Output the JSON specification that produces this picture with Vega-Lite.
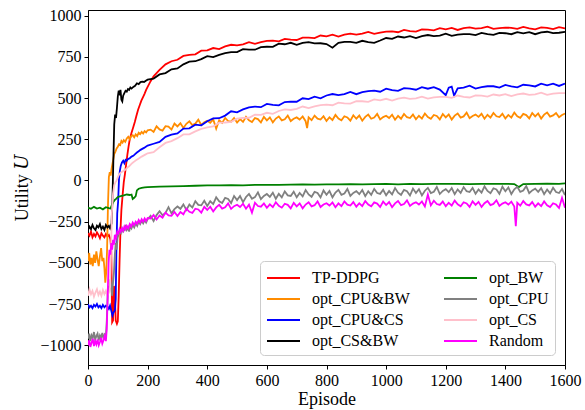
{
  "$schema": "https://vega.github.io/schema/vega-lite/v6.json",
  "width": 477,
  "height": 355,
  "autosize": {"type": "none"},
  "padding": {"left": 88, "top": 10, "right": 20, "bottom": 45},
  "background": "white",
  "config": {
    "font": "Liberation Serif",
    "view": {"stroke": "black", "strokeWidth": 1},
    "axis": {
      "labelFont": "Liberation Serif", "labelFontSize": 16, "labelColor": "black",
      "titleFont": "Liberation Serif, DejaVu Serif, serif", "titleFontSize": 18, "titleFontWeight": "normal", "titleColor": "black",
      "domainColor": "black", "tickColor": "black", "tickSize": 4, "grid": false,
      "labelPadding": 3, "labelFlush": false, "labelOverlap": false
    }
  },
  "data": {"values": [
    {"s":"T","x":0,"y":-320},{"s":"T","x":5,"y":-335},{"s":"T","x":10,"y":-310},{"s":"T","x":15,"y":-345},{"s":"T","x":20,"y":-325},{"s":"T","x":25,"y":-340},{"s":"T","x":30,"y":-315},{"s":"T","x":35,"y":-330},{"s":"T","x":40,"y":-350},{"s":"T","x":45,"y":-320},{"s":"T","x":50,"y":-335},{"s":"T","x":55,"y":-345},{"s":"T","x":60,"y":-325},{"s":"T","x":65,"y":-340},{"s":"T","x":70,"y":-330},{"s":"T","x":75,"y":-355},{"s":"T","x":78,"y":-420},{"s":"T","x":81,"y":-860},{"s":"T","x":84,"y":-850},{"s":"T","x":87,"y":-640},{"s":"T","x":90,"y":-700},{"s":"T","x":93,"y":-850},{"s":"T","x":97,"y":-870},{"s":"T","x":100,"y":-855},{"s":"T","x":103,"y":-700},{"s":"T","x":106,"y":-480},{"s":"T","x":109,"y":-300},{"s":"T","x":112,"y":-180},{"s":"T","x":116,"y":-90},{"s":"T","x":120,"y":-10},{"s":"T","x":124,"y":40},{"s":"T","x":128,"y":100},{"s":"T","x":132,"y":155},{"s":"T","x":136,"y":205},{"s":"T","x":140,"y":250},{"s":"T","x":146,"y":290},{"s":"T","x":152,"y":325},{"s":"T","x":157,"y":355},{"s":"T","x":162,"y":390},{"s":"T","x":168,"y":430},{"s":"T","x":174,"y":460},{"s":"T","x":179,"y":485},{"s":"T","x":185,"y":508},{"s":"T","x":190,"y":528},{"s":"T","x":195,"y":550},{"s":"T","x":200,"y":568},{"s":"T","x":210,"y":603},
    {"s":"T","x":220,"y":632},{"s":"T","x":230,"y":652},{"s":"T","x":240,"y":672},{"s":"T","x":260,"y":705},{"s":"T","x":280,"y":724},{"s":"T","x":300,"y":733},{"s":"T","x":320,"y":756},{"s":"T","x":340,"y":763},{"s":"T","x":360,"y":766},{"s":"T","x":380,"y":788},{"s":"T","x":400,"y":790},{"s":"T","x":420,"y":804},{"s":"T","x":440,"y":798},{"s":"T","x":460,"y":814},{"s":"T","x":480,"y":824},{"s":"T","x":500,"y":820},{"s":"T","x":520,"y":827},{"s":"T","x":540,"y":840},{"s":"T","x":560,"y":830},{"s":"T","x":580,"y":840},{"s":"T","x":600,"y":847},
    {"s":"T","x":620,"y":849},{"s":"T","x":640,"y":845},{"s":"T","x":660,"y":860},{"s":"T","x":680,"y":855},{"s":"T","x":700,"y":853},{"s":"T","x":720,"y":867},{"s":"T","x":740,"y":867},{"s":"T","x":760,"y":864},{"s":"T","x":780,"y":880},{"s":"T","x":800,"y":875},{"s":"T","x":820,"y":885},{"s":"T","x":840,"y":874},{"s":"T","x":860,"y":886},{"s":"T","x":880,"y":892},{"s":"T","x":900,"y":886},{"s":"T","x":920,"y":891},{"s":"T","x":940,"y":902},{"s":"T","x":960,"y":890},{"s":"T","x":980,"y":898},{"s":"T","x":1000,"y":904},
    {"s":"T","x":1020,"y":905},{"s":"T","x":1040,"y":900},{"s":"T","x":1060,"y":914},{"s":"T","x":1080,"y":907},{"s":"T","x":1100,"y":904},{"s":"T","x":1120,"y":917},{"s":"T","x":1140,"y":916},{"s":"T","x":1160,"y":911},{"s":"T","x":1180,"y":925},{"s":"T","x":1200,"y":918},{"s":"T","x":1220,"y":926},{"s":"T","x":1240,"y":914},{"s":"T","x":1260,"y":925},{"s":"T","x":1280,"y":930},{"s":"T","x":1300,"y":922},{"s":"T","x":1320,"y":925},{"s":"T","x":1340,"y":934},{"s":"T","x":1360,"y":920},{"s":"T","x":1380,"y":925},{"s":"T","x":1400,"y":928},
    {"s":"T","x":1420,"y":927},{"s":"T","x":1440,"y":920},{"s":"T","x":1460,"y":932},{"s":"T","x":1480,"y":923},{"s":"T","x":1500,"y":918},{"s":"T","x":1520,"y":929},{"s":"T","x":1540,"y":926},{"s":"T","x":1560,"y":919},{"s":"T","x":1580,"y":931},{"s":"T","x":1600,"y":923},

    {"s":"CB","x":0,"y":-490},{"s":"CB","x":4,"y":-440},{"s":"CB","x":8,"y":-510},{"s":"CB","x":12,"y":-470},{"s":"CB","x":16,"y":-520},{"s":"CB","x":20,"y":-450},{"s":"CB","x":24,"y":-500},{"s":"CB","x":28,"y":-430},{"s":"CB","x":32,"y":-480},{"s":"CB","x":36,"y":-520},{"s":"CB","x":40,"y":-460},{"s":"CB","x":44,"y":-410},{"s":"CB","x":48,"y":-490},{"s":"CB","x":52,"y":-470},{"s":"CB","x":55,"y":-530},{"s":"CB","x":58,"y":-620},{"s":"CB","x":61,"y":-560},{"s":"CB","x":64,"y":-420},{"s":"CB","x":67,"y":-150},{"s":"CB","x":70,"y":20},{"s":"CB","x":73,"y":50},{"s":"CB","x":76,"y":30},{"s":"CB","x":79,"y":70},{"s":"CB","x":82,"y":100},{"s":"CB","x":85,"y":130},{"s":"CB","x":88,"y":160},{"s":"CB","x":92,"y":175},{"s":"CB","x":96,"y":195},{"s":"CB","x":100,"y":205},{"s":"CB","x":104,"y":220},{"s":"CB","x":108,"y":215},{"s":"CB","x":112,"y":240},{"s":"CB","x":116,"y":230},{"s":"CB","x":120,"y":245},{"s":"CB","x":125,"y":235},{"s":"CB","x":130,"y":255},{"s":"CB","x":135,"y":265},{"s":"CB","x":140,"y":250},{"s":"CB","x":145,"y":270},{"s":"CB","x":150,"y":275},{"s":"CB","x":155,"y":262},{"s":"CB","x":160,"y":280},{"s":"CB","x":165,"y":270},{"s":"CB","x":170,"y":290},{"s":"CB","x":175,"y":282},{"s":"CB","x":180,"y":295},{"s":"CB","x":185,"y":285},{"s":"CB","x":190,"y":300},{"s":"CB","x":195,"y":292},{"s":"CB","x":200,"y":305},
    {"s":"CB","x":210,"y":309},{"s":"CB","x":220,"y":295},{"s":"CB","x":230,"y":329},{"s":"CB","x":240,"y":310},{"s":"CB","x":250,"y":303},{"s":"CB","x":260,"y":330},{"s":"CB","x":270,"y":327},{"s":"CB","x":280,"y":309},{"s":"CB","x":290,"y":346},{"s":"CB","x":300,"y":328},{"s":"CB","x":310,"y":348},{"s":"CB","x":320,"y":319},{"s":"CB","x":330,"y":344},{"s":"CB","x":340,"y":359},{"s":"CB","x":350,"y":336},{"s":"CB","x":360,"y":345},{"s":"CB","x":370,"y":369},{"s":"CB","x":380,"y":337},{"s":"CB","x":390,"y":353},{"s":"CB","x":400,"y":363},
    {"s":"CB","x":410,"y":350},{"s":"CB","x":420,"y":371},{"s":"CB","x":430,"y":315},{"s":"CB","x":440,"y":366},{"s":"CB","x":450,"y":350},{"s":"CB","x":460,"y":380},{"s":"CB","x":470,"y":361},{"s":"CB","x":480,"y":357},{"s":"CB","x":490,"y":379},{"s":"CB","x":500,"y":352},{"s":"CB","x":510,"y":373},{"s":"CB","x":520,"y":356},{"s":"CB","x":530,"y":387},{"s":"CB","x":540,"y":365},{"s":"CB","x":550,"y":355},{"s":"CB","x":560,"y":379},{"s":"CB","x":570,"y":373},{"s":"CB","x":580,"y":352},{"s":"CB","x":590,"y":386},{"s":"CB","x":600,"y":365},
    {"s":"CB","x":610,"y":383},{"s":"CB","x":620,"y":353},{"s":"CB","x":630,"y":376},{"s":"CB","x":640,"y":389},{"s":"CB","x":650,"y":365},{"s":"CB","x":660,"y":372},{"s":"CB","x":670,"y":394},{"s":"CB","x":680,"y":361},{"s":"CB","x":690,"y":375},{"s":"CB","x":700,"y":383},{"s":"CB","x":710,"y":370},{"s":"CB","x":720,"y":389},{"s":"CB","x":730,"y":360},{"s":"CB","x":735,"y":318},{"s":"CB","x":740,"y":383},{"s":"CB","x":750,"y":366},{"s":"CB","x":760,"y":394},{"s":"CB","x":770,"y":375},{"s":"CB","x":780,"y":370},{"s":"CB","x":790,"y":390},{"s":"CB","x":800,"y":362},
    {"s":"CB","x":810,"y":384},{"s":"CB","x":820,"y":367},{"s":"CB","x":830,"y":398},{"s":"CB","x":840,"y":376},{"s":"CB","x":850,"y":365},{"s":"CB","x":860,"y":390},{"s":"CB","x":870,"y":383},{"s":"CB","x":880,"y":363},{"s":"CB","x":890,"y":396},{"s":"CB","x":900,"y":375},{"s":"CB","x":910,"y":394},{"s":"CB","x":920,"y":363},{"s":"CB","x":930,"y":386},{"s":"CB","x":940,"y":400},{"s":"CB","x":950,"y":375},{"s":"CB","x":960,"y":382},{"s":"CB","x":970,"y":404},{"s":"CB","x":980,"y":371},{"s":"CB","x":990,"y":385},{"s":"CB","x":1000,"y":393},
    {"s":"CB","x":1010,"y":379},{"s":"CB","x":1020,"y":399},{"s":"CB","x":1030,"y":369},{"s":"CB","x":1040,"y":392},{"s":"CB","x":1050,"y":375},{"s":"CB","x":1060,"y":404},{"s":"CB","x":1070,"y":384},{"s":"CB","x":1080,"y":379},{"s":"CB","x":1090,"y":400},{"s":"CB","x":1100,"y":372},{"s":"CB","x":1110,"y":393},{"s":"CB","x":1120,"y":376},{"s":"CB","x":1130,"y":407},{"s":"CB","x":1140,"y":385},{"s":"CB","x":1150,"y":374},{"s":"CB","x":1160,"y":398},{"s":"CB","x":1170,"y":392},{"s":"CB","x":1180,"y":371},{"s":"CB","x":1190,"y":404},{"s":"CB","x":1200,"y":383},
    {"s":"CB","x":1210,"y":401},{"s":"CB","x":1220,"y":370},{"s":"CB","x":1230,"y":394},{"s":"CB","x":1240,"y":407},{"s":"CB","x":1250,"y":382},{"s":"CB","x":1260,"y":389},{"s":"CB","x":1270,"y":412},{"s":"CB","x":1280,"y":378},{"s":"CB","x":1290,"y":392},{"s":"CB","x":1300,"y":400},{"s":"CB","x":1310,"y":386},{"s":"CB","x":1320,"y":405},{"s":"CB","x":1330,"y":375},{"s":"CB","x":1340,"y":399},{"s":"CB","x":1350,"y":382},{"s":"CB","x":1360,"y":410},{"s":"CB","x":1370,"y":390},{"s":"CB","x":1380,"y":385},{"s":"CB","x":1390,"y":405},{"s":"CB","x":1400,"y":377},
    {"s":"CB","x":1410,"y":398},{"s":"CB","x":1420,"y":382},{"s":"CB","x":1430,"y":412},{"s":"CB","x":1440,"y":390},{"s":"CB","x":1450,"y":380},{"s":"CB","x":1460,"y":404},{"s":"CB","x":1470,"y":397},{"s":"CB","x":1480,"y":377},{"s":"CB","x":1490,"y":410},{"s":"CB","x":1500,"y":389},{"s":"CB","x":1510,"y":407},{"s":"CB","x":1520,"y":376},{"s":"CB","x":1530,"y":400},{"s":"CB","x":1540,"y":413},{"s":"CB","x":1550,"y":388},{"s":"CB","x":1560,"y":395},{"s":"CB","x":1570,"y":410},{"s":"CB","x":1580,"y":384},{"s":"CB","x":1590,"y":398},{"s":"CB","x":1600,"y":406},

    {"s":"CC","x":0,"y":-750},{"s":"CC","x":5,"y":-770},{"s":"CC","x":10,"y":-760},{"s":"CC","x":15,"y":-775},{"s":"CC","x":20,"y":-755},{"s":"CC","x":25,"y":-765},{"s":"CC","x":30,"y":-750},{"s":"CC","x":35,"y":-770},{"s":"CC","x":40,"y":-760},{"s":"CC","x":45,"y":-775},{"s":"CC","x":50,"y":-755},{"s":"CC","x":55,"y":-770},{"s":"CC","x":60,"y":-760},{"s":"CC","x":65,"y":-765},{"s":"CC","x":70,"y":-780},{"s":"CC","x":74,"y":-760},{"s":"CC","x":78,"y":-790},{"s":"CC","x":82,"y":-820},{"s":"CC","x":86,"y":-800},{"s":"CC","x":90,"y":-790},{"s":"CC","x":93,"y":-720},{"s":"CC","x":95,"y":-450},{"s":"CC","x":98,"y":-200},{"s":"CC","x":101,"y":-130},{"s":"CC","x":104,"y":10},{"s":"CC","x":107,"y":60},{"s":"CC","x":110,"y":90},{"s":"CC","x":114,"y":110},{"s":"CC","x":118,"y":120},{"s":"CC","x":122,"y":105},{"s":"CC","x":126,"y":125},{"s":"CC","x":130,"y":120},{"s":"CC","x":134,"y":130},{"s":"CC","x":140,"y":135},{"s":"CC","x":146,"y":145},{"s":"CC","x":152,"y":150},{"s":"CC","x":158,"y":160},{"s":"CC","x":164,"y":170},{"s":"CC","x":170,"y":178},{"s":"CC","x":176,"y":186},{"s":"CC","x":182,"y":192},{"s":"CC","x":188,"y":198},{"s":"CC","x":194,"y":205},{"s":"CC","x":200,"y":212},
    {"s":"CC","x":220,"y":223},{"s":"CC","x":240,"y":234},{"s":"CC","x":260,"y":265},{"s":"CC","x":280,"y":278},{"s":"CC","x":300,"y":286},{"s":"CC","x":320,"y":315},{"s":"CC","x":340,"y":317},{"s":"CC","x":360,"y":339},{"s":"CC","x":380,"y":335},{"s":"CC","x":400,"y":360},{"s":"CC","x":420,"y":377},{"s":"CC","x":440,"y":378},{"s":"CC","x":460,"y":394},{"s":"CC","x":480,"y":420},{"s":"CC","x":500,"y":414},{"s":"CC","x":520,"y":432},{"s":"CC","x":540,"y":444},{"s":"CC","x":560,"y":449},{"s":"CC","x":580,"y":445},{"s":"CC","x":600,"y":465},
    {"s":"CC","x":620,"y":459},{"s":"CC","x":640,"y":456},{"s":"CC","x":660,"y":476},{"s":"CC","x":680,"y":479},{"s":"CC","x":700,"y":478},{"s":"CC","x":720,"y":499},{"s":"CC","x":740,"y":494},{"s":"CC","x":760,"y":509},{"s":"CC","x":780,"y":499},{"s":"CC","x":800,"y":516},{"s":"CC","x":820,"y":525},{"s":"CC","x":840,"y":518},{"s":"CC","x":860,"y":524},{"s":"CC","x":880,"y":538},{"s":"CC","x":900,"y":524},{"s":"CC","x":920,"y":536},{"s":"CC","x":940,"y":543},{"s":"CC","x":960,"y":545},{"s":"CC","x":980,"y":539},{"s":"CC","x":1000,"y":557},
    {"s":"CC","x":1020,"y":548},{"s":"CC","x":1040,"y":544},{"s":"CC","x":1060,"y":561},{"s":"CC","x":1080,"y":558},{"s":"CC","x":1100,"y":551},{"s":"CC","x":1120,"y":567},{"s":"CC","x":1140,"y":557},{"s":"CC","x":1160,"y":567},{"s":"CC","x":1180,"y":552},{"s":"CC","x":1200,"y":518},{"s":"CC","x":1210,"y":563},{"s":"CC","x":1220,"y":570},{"s":"CC","x":1228,"y":515},{"s":"CC","x":1240,"y":560},{"s":"CC","x":1260,"y":564},{"s":"CC","x":1280,"y":576},{"s":"CC","x":1300,"y":558},{"s":"CC","x":1320,"y":567},{"s":"CC","x":1340,"y":572},{"s":"CC","x":1360,"y":572},{"s":"CC","x":1380,"y":564},{"s":"CC","x":1400,"y":580},
    {"s":"CC","x":1420,"y":571},{"s":"CC","x":1440,"y":565},{"s":"CC","x":1460,"y":581},{"s":"CC","x":1480,"y":578},{"s":"CC","x":1500,"y":571},{"s":"CC","x":1520,"y":588},{"s":"CC","x":1540,"y":578},{"s":"CC","x":1560,"y":588},{"s":"CC","x":1580,"y":574},{"s":"CC","x":1600,"y":588},

    {"s":"SB","x":0,"y":-300},{"s":"SB","x":5,"y":-280},{"s":"SB","x":10,"y":-295},{"s":"SB","x":15,"y":-270},{"s":"SB","x":20,"y":-290},{"s":"SB","x":25,"y":-300},{"s":"SB","x":30,"y":-275},{"s":"SB","x":35,"y":-285},{"s":"SB","x":40,"y":-265},{"s":"SB","x":45,"y":-295},{"s":"SB","x":50,"y":-280},{"s":"SB","x":55,"y":-300},{"s":"SB","x":60,"y":-270},{"s":"SB","x":65,"y":-285},{"s":"SB","x":70,"y":-275},{"s":"SB","x":74,"y":-290},{"s":"SB","x":79,"y":-260},{"s":"SB","x":82,"y":-120},{"s":"SB","x":85,"y":120},{"s":"SB","x":88,"y":340},{"s":"SB","x":91,"y":400},{"s":"SB","x":94,"y":380},{"s":"SB","x":97,"y":440},{"s":"SB","x":100,"y":510},{"s":"SB","x":103,"y":545},{"s":"SB","x":106,"y":530},{"s":"SB","x":109,"y":550},{"s":"SB","x":112,"y":490},{"s":"SB","x":115,"y":480},{"s":"SB","x":118,"y":515},{"s":"SB","x":122,"y":530},{"s":"SB","x":126,"y":545},{"s":"SB","x":130,"y":540},{"s":"SB","x":134,"y":555},{"s":"SB","x":138,"y":550},{"s":"SB","x":142,"y":565},{"s":"SB","x":146,"y":558},{"s":"SB","x":152,"y":568},{"s":"SB","x":158,"y":575},{"s":"SB","x":164,"y":590},{"s":"SB","x":170,"y":585},{"s":"SB","x":176,"y":597},{"s":"SB","x":182,"y":600},{"s":"SB","x":188,"y":598},{"s":"SB","x":194,"y":606},{"s":"SB","x":200,"y":612},
    {"s":"SB","x":220,"y":619},{"s":"SB","x":240,"y":644},{"s":"SB","x":260,"y":652},{"s":"SB","x":280,"y":675},{"s":"SB","x":300,"y":680},{"s":"SB","x":320,"y":705},{"s":"SB","x":340,"y":721},{"s":"SB","x":360,"y":724},{"s":"SB","x":380,"y":737},{"s":"SB","x":400,"y":755},{"s":"SB","x":420,"y":749},{"s":"SB","x":440,"y":763},{"s":"SB","x":460,"y":773},{"s":"SB","x":480,"y":779},{"s":"SB","x":500,"y":779},{"s":"SB","x":520,"y":797},{"s":"SB","x":540,"y":794},{"s":"SB","x":560,"y":794},{"s":"SB","x":580,"y":810},{"s":"SB","x":600,"y":812},
    {"s":"SB","x":620,"y":811},{"s":"SB","x":640,"y":831},{"s":"SB","x":660,"y":827},{"s":"SB","x":680,"y":836},{"s":"SB","x":700,"y":824},{"s":"SB","x":720,"y":835},{"s":"SB","x":740,"y":840},{"s":"SB","x":760,"y":832},{"s":"SB","x":780,"y":833},{"s":"SB","x":800,"y":828},{"s":"SB","x":820,"y":806},{"s":"SB","x":840,"y":836},{"s":"SB","x":860,"y":841},{"s":"SB","x":880,"y":841},{"s":"SB","x":900,"y":835},{"s":"SB","x":920,"y":848},{"s":"SB","x":940,"y":840},{"s":"SB","x":960,"y":836},{"s":"SB","x":980,"y":850},{"s":"SB","x":1000,"y":865},
    {"s":"SB","x":1020,"y":860},{"s":"SB","x":1040,"y":874},{"s":"SB","x":1060,"y":868},{"s":"SB","x":1080,"y":876},{"s":"SB","x":1100,"y":865},{"s":"SB","x":1120,"y":877},{"s":"SB","x":1140,"y":883},{"s":"SB","x":1160,"y":876},{"s":"SB","x":1180,"y":880},{"s":"SB","x":1200,"y":891},{"s":"SB","x":1220,"y":878},{"s":"SB","x":1240,"y":885},{"s":"SB","x":1260,"y":889},{"s":"SB","x":1280,"y":889},{"s":"SB","x":1300,"y":883},{"s":"SB","x":1320,"y":896},{"s":"SB","x":1340,"y":888},{"s":"SB","x":1360,"y":884},{"s":"SB","x":1380,"y":896},{"s":"SB","x":1400,"y":894},
    {"s":"SB","x":1420,"y":888},{"s":"SB","x":1440,"y":901},{"s":"SB","x":1460,"y":893},{"s":"SB","x":1480,"y":901},{"s":"SB","x":1500,"y":888},{"s":"SB","x":1520,"y":899},{"s":"SB","x":1540,"y":903},{"s":"SB","x":1560,"y":895},{"s":"SB","x":1580,"y":897},{"s":"SB","x":1600,"y":902},

    {"s":"B","x":0,"y":-165},{"s":"B","x":10,"y":-172},{"s":"B","x":20,"y":-160},{"s":"B","x":30,"y":-170},{"s":"B","x":40,"y":-165},{"s":"B","x":50,"y":-175},{"s":"B","x":60,"y":-162},{"s":"B","x":70,"y":-168},{"s":"B","x":75,"y":-170},{"s":"B","x":80,"y":-150},{"s":"B","x":85,"y":-130},{"s":"B","x":90,"y":-118},{"s":"B","x":95,"y":-110},{"s":"B","x":100,"y":-100},{"s":"B","x":110,"y":-95},{"s":"B","x":120,"y":-90},{"s":"B","x":130,"y":-85},{"s":"B","x":140,"y":-88},{"s":"B","x":146,"y":-85},{"s":"B","x":150,"y":-112},{"s":"B","x":155,"y":-105},{"s":"B","x":160,"y":-95},{"s":"B","x":164,"y":-60},{"s":"B","x":170,"y":-50},{"s":"B","x":180,"y":-45},{"s":"B","x":190,"y":-42},{"s":"B","x":200,"y":-40},
    {"s":"B","x":240,"y":-37},{"s":"B","x":280,"y":-36},{"s":"B","x":320,"y":-34},{"s":"B","x":360,"y":-32},{"s":"B","x":400,"y":-30},{"s":"B","x":440,"y":-29},{"s":"B","x":480,"y":-28},{"s":"B","x":520,"y":-30},{"s":"B","x":560,"y":-27},{"s":"B","x":600,"y":-26},{"s":"B","x":640,"y":-27},{"s":"B","x":680,"y":-25},{"s":"B","x":720,"y":-24},{"s":"B","x":760,"y":-25},{"s":"B","x":800,"y":-23},{"s":"B","x":840,"y":-24},{"s":"B","x":880,"y":-22},{"s":"B","x":920,"y":-23},{"s":"B","x":960,"y":-22},{"s":"B","x":1000,"y":-21},{"s":"B","x":1040,"y":-23},{"s":"B","x":1080,"y":-21},{"s":"B","x":1120,"y":-22},{"s":"B","x":1160,"y":-20},{"s":"B","x":1200,"y":-21},{"s":"B","x":1240,"y":-20},{"s":"B","x":1280,"y":-22},{"s":"B","x":1320,"y":-20},{"s":"B","x":1360,"y":-21},{"s":"B","x":1400,"y":-20},{"s":"B","x":1430,"y":-22},{"s":"B","x":1445,"y":-40},{"s":"B","x":1460,"y":-22},{"s":"B","x":1500,"y":-20},{"s":"B","x":1540,"y":-19},{"s":"B","x":1580,"y":-20},{"s":"B","x":1600,"y":-18},

    {"s":"C","x":0,"y":-960},{"s":"C","x":4,"y":-930},{"s":"C","x":8,"y":-975},{"s":"C","x":12,"y":-940},{"s":"C","x":16,"y":-955},{"s":"C","x":20,"y":-920},{"s":"C","x":24,"y":-965},{"s":"C","x":28,"y":-945},{"s":"C","x":32,"y":-930},{"s":"C","x":36,"y":-970},{"s":"C","x":40,"y":-940},{"s":"C","x":44,"y":-955},{"s":"C","x":48,"y":-925},{"s":"C","x":52,"y":-960},{"s":"C","x":56,"y":-935},{"s":"C","x":60,"y":-945},{"s":"C","x":63,"y":-850},{"s":"C","x":66,"y":-700},{"s":"C","x":69,"y":-640},{"s":"C","x":72,"y":-660},{"s":"C","x":75,"y":-600},{"s":"C","x":78,"y":-640},{"s":"C","x":81,"y":-700},{"s":"C","x":84,"y":-620},{"s":"C","x":87,"y":-560},{"s":"C","x":90,"y":-450},{"s":"C","x":93,"y":-380},{"s":"C","x":96,"y":-420},{"s":"C","x":99,"y":-350},{"s":"C","x":102,"y":-330},{"s":"C","x":106,"y":-310},{"s":"C","x":110,"y":-320},{"s":"C","x":114,"y":-290},{"s":"C","x":118,"y":-310},{"s":"C","x":122,"y":-300},{"s":"C","x":126,"y":-280},{"s":"C","x":130,"y":-300},{"s":"C","x":134,"y":-285},{"s":"C","x":138,"y":-310},{"s":"C","x":142,"y":-275},{"s":"C","x":146,"y":-290},{"s":"C","x":150,"y":-270},{"s":"C","x":155,"y":-285},{"s":"C","x":160,"y":-260},{"s":"C","x":165,"y":-275},{"s":"C","x":170,"y":-250},{"s":"C","x":175,"y":-265},{"s":"C","x":180,"y":-245},{"s":"C","x":185,"y":-260},{"s":"C","x":190,"y":-240},{"s":"C","x":195,"y":-255},{"s":"C","x":200,"y":-235},
    {"s":"C","x":210,"y":-214},{"s":"C","x":220,"y":-246},{"s":"C","x":230,"y":-210},{"s":"C","x":240,"y":-187},{"s":"C","x":250,"y":-211},{"s":"C","x":260,"y":-197},{"s":"C","x":270,"y":-162},{"s":"C","x":280,"y":-199},{"s":"C","x":290,"y":-174},{"s":"C","x":300,"y":-158},{"s":"C","x":310,"y":-172},{"s":"C","x":320,"y":-145},{"s":"C","x":330,"y":-178},{"s":"C","x":340,"y":-146},{"s":"C","x":350,"y":-164},{"s":"C","x":360,"y":-126},{"s":"C","x":370,"y":-148},{"s":"C","x":380,"y":-151},{"s":"C","x":390,"y":-123},{"s":"C","x":400,"y":-155},
    {"s":"C","x":410,"y":-126},{"s":"C","x":420,"y":-143},{"s":"C","x":430,"y":-102},{"s":"C","x":440,"y":-126},{"s":"C","x":450,"y":-137},{"s":"C","x":460,"y":-105},{"s":"C","x":470,"y":-112},{"s":"C","x":480,"y":-137},{"s":"C","x":490,"y":-94},{"s":"C","x":500,"y":-119},{"s":"C","x":510,"y":-94},{"s":"C","x":520,"y":-131},{"s":"C","x":530,"y":-100},{"s":"C","x":540,"y":-82},{"s":"C","x":550,"y":-111},{"s":"C","x":560,"y":-101},{"s":"C","x":570,"y":-72},{"s":"C","x":580,"y":-113},{"s":"C","x":590,"y":-94},{"s":"C","x":600,"y":-82},
    {"s":"C","x":610,"y":-99},{"s":"C","x":620,"y":-74},{"s":"C","x":630,"y":-111},{"s":"C","x":640,"y":-81},{"s":"C","x":650,"y":-102},{"s":"C","x":660,"y":-66},{"s":"C","x":670,"y":-90},{"s":"C","x":680,"y":-94},{"s":"C","x":690,"y":-68},{"s":"C","x":700,"y":-102},{"s":"C","x":710,"y":-76},{"s":"C","x":720,"y":-96},{"s":"C","x":730,"y":-58},{"s":"C","x":740,"y":-85},{"s":"C","x":750,"y":-99},{"s":"C","x":760,"y":-69},{"s":"C","x":770,"y":-76},{"s":"C","x":780,"y":-103},{"s":"C","x":790,"y":-60},{"s":"C","x":800,"y":-87},
    {"s":"C","x":810,"y":-64},{"s":"C","x":820,"y":-102},{"s":"C","x":830,"y":-73},{"s":"C","x":840,"y":-57},{"s":"C","x":850,"y":-87},{"s":"C","x":860,"y":-79},{"s":"C","x":870,"y":-51},{"s":"C","x":880,"y":-93},{"s":"C","x":890,"y":-75},{"s":"C","x":900,"y":-65},{"s":"C","x":910,"y":-83},{"s":"C","x":920,"y":-58},{"s":"C","x":930,"y":-95},{"s":"C","x":940,"y":-65},{"s":"C","x":950,"y":-87},{"s":"C","x":960,"y":-51},{"s":"C","x":970,"y":-76},{"s":"C","x":980,"y":-81},{"s":"C","x":990,"y":-56},{"s":"C","x":1000,"y":-90},
    {"s":"C","x":1010,"y":-64},{"s":"C","x":1020,"y":-84},{"s":"C","x":1030,"y":-46},{"s":"C","x":1040,"y":-74},{"s":"C","x":1050,"y":-87},{"s":"C","x":1060,"y":-57},{"s":"C","x":1070,"y":-65},{"s":"C","x":1080,"y":-91},{"s":"C","x":1090,"y":-49},{"s":"C","x":1100,"y":-76},{"s":"C","x":1110,"y":-53},{"s":"C","x":1120,"y":-91},{"s":"C","x":1130,"y":-62},{"s":"C","x":1140,"y":-45},{"s":"C","x":1150,"y":-76},{"s":"C","x":1160,"y":-68},{"s":"C","x":1170,"y":-39},{"s":"C","x":1180,"y":-82},{"s":"C","x":1190,"y":-63},{"s":"C","x":1200,"y":-53},
    {"s":"C","x":1210,"y":-71},{"s":"C","x":1220,"y":-46},{"s":"C","x":1230,"y":-83},{"s":"C","x":1240,"y":-54},{"s":"C","x":1250,"y":-75},{"s":"C","x":1260,"y":-40},{"s":"C","x":1270,"y":-65},{"s":"C","x":1280,"y":-70},{"s":"C","x":1290,"y":-45},{"s":"C","x":1300,"y":-80},{"s":"C","x":1310,"y":-54},{"s":"C","x":1320,"y":-74},{"s":"C","x":1330,"y":-36},{"s":"C","x":1340,"y":-63},{"s":"C","x":1350,"y":-77},{"s":"C","x":1360,"y":-47},{"s":"C","x":1370,"y":-54},{"s":"C","x":1380,"y":-81},{"s":"C","x":1390,"y":-38},{"s":"C","x":1400,"y":-65},
    {"s":"C","x":1410,"y":-42},{"s":"C","x":1420,"y":-82},{"s":"C","x":1430,"y":-53},{"s":"C","x":1440,"y":-38},{"s":"C","x":1450,"y":-69},{"s":"C","x":1460,"y":-61},{"s":"C","x":1470,"y":-34},{"s":"C","x":1480,"y":-77},{"s":"C","x":1490,"y":-60},{"s":"C","x":1500,"y":-50},{"s":"C","x":1510,"y":-69},{"s":"C","x":1520,"y":-46},{"s":"C","x":1530,"y":-83},{"s":"C","x":1540,"y":-55},{"s":"C","x":1550,"y":-78},{"s":"C","x":1560,"y":-44},{"s":"C","x":1570,"y":-70},{"s":"C","x":1580,"y":-76},{"s":"C","x":1590,"y":-52},{"s":"C","x":1600,"y":-88},

    {"s":"S","x":0,"y":-700},{"s":"S","x":5,"y":-660},{"s":"S","x":10,"y":-690},{"s":"S","x":15,"y":-670},{"s":"S","x":20,"y":-705},{"s":"S","x":25,"y":-680},{"s":"S","x":30,"y":-660},{"s":"S","x":35,"y":-695},{"s":"S","x":40,"y":-675},{"s":"S","x":45,"y":-700},{"s":"S","x":50,"y":-665},{"s":"S","x":55,"y":-690},{"s":"S","x":60,"y":-670},{"s":"S","x":65,"y":-700},{"s":"S","x":70,"y":-680},{"s":"S","x":74,"y":-650},{"s":"S","x":77,"y":-450},{"s":"S","x":80,"y":-200},{"s":"S","x":84,"y":-80},{"s":"S","x":88,"y":-30},{"s":"S","x":92,"y":-10},{"s":"S","x":96,"y":0},{"s":"S","x":100,"y":20},{"s":"S","x":104,"y":35},{"s":"S","x":108,"y":45},{"s":"S","x":112,"y":50},{"s":"S","x":116,"y":55},{"s":"S","x":120,"y":60},{"s":"S","x":126,"y":66},{"s":"S","x":132,"y":78},{"s":"S","x":138,"y":86},{"s":"S","x":144,"y":98},{"s":"S","x":150,"y":108},{"s":"S","x":156,"y":116},{"s":"S","x":162,"y":124},{"s":"S","x":168,"y":131},{"s":"S","x":174,"y":138},{"s":"S","x":180,"y":145},{"s":"S","x":186,"y":151},{"s":"S","x":192,"y":157},{"s":"S","x":200,"y":165},
    {"s":"S","x":220,"y":172},{"s":"S","x":240,"y":202},{"s":"S","x":260,"y":228},{"s":"S","x":280,"y":239},{"s":"S","x":300,"y":257},{"s":"S","x":320,"y":280},{"s":"S","x":340,"y":280},{"s":"S","x":360,"y":298},{"s":"S","x":380,"y":313},{"s":"S","x":400,"y":323},{"s":"S","x":420,"y":328},{"s":"S","x":440,"y":351},{"s":"S","x":460,"y":352},{"s":"S","x":480,"y":356},{"s":"S","x":500,"y":375},{"s":"S","x":520,"y":380},{"s":"S","x":540,"y":381},{"s":"S","x":560,"y":400},{"s":"S","x":580,"y":398},{"s":"S","x":600,"y":411},
    {"s":"S","x":620,"y":405},{"s":"S","x":640,"y":422},{"s":"S","x":660,"y":432},{"s":"S","x":680,"y":428},{"s":"S","x":700,"y":435},{"s":"S","x":720,"y":449},{"s":"S","x":740,"y":440},{"s":"S","x":760,"y":450},{"s":"S","x":780,"y":457},{"s":"S","x":800,"y":460},{"s":"S","x":820,"y":457},{"s":"S","x":840,"y":473},{"s":"S","x":860,"y":468},{"s":"S","x":880,"y":467},{"s":"S","x":900,"y":481},{"s":"S","x":920,"y":481},{"s":"S","x":940,"y":477},{"s":"S","x":960,"y":492},{"s":"S","x":980,"y":487},{"s":"S","x":1000,"y":496},
    {"s":"S","x":1020,"y":485},{"s":"S","x":1040,"y":497},{"s":"S","x":1060,"y":503},{"s":"S","x":1080,"y":496},{"s":"S","x":1100,"y":499},{"s":"S","x":1120,"y":509},{"s":"S","x":1140,"y":497},{"s":"S","x":1160,"y":504},{"s":"S","x":1180,"y":508},{"s":"S","x":1200,"y":508},{"s":"S","x":1220,"y":502},{"s":"S","x":1240,"y":516},{"s":"S","x":1260,"y":508},{"s":"S","x":1280,"y":504},{"s":"S","x":1300,"y":517},{"s":"S","x":1320,"y":515},{"s":"S","x":1340,"y":509},{"s":"S","x":1360,"y":522},{"s":"S","x":1380,"y":516},{"s":"S","x":1400,"y":524},
    {"s":"S","x":1420,"y":512},{"s":"S","x":1440,"y":523},{"s":"S","x":1460,"y":528},{"s":"S","x":1480,"y":520},{"s":"S","x":1500,"y":523},{"s":"S","x":1520,"y":533},{"s":"S","x":1540,"y":520},{"s":"S","x":1560,"y":527},{"s":"S","x":1580,"y":531},{"s":"S","x":1600,"y":531},

    {"s":"R","x":0,"y":-1000},{"s":"R","x":4,"y":-970},{"s":"R","x":8,"y":-1010},{"s":"R","x":12,"y":-985},{"s":"R","x":16,"y":-960},{"s":"R","x":20,"y":-1005},{"s":"R","x":24,"y":-975},{"s":"R","x":28,"y":-995},{"s":"R","x":32,"y":-965},{"s":"R","x":36,"y":-1000},{"s":"R","x":40,"y":-980},{"s":"R","x":44,"y":-955},{"s":"R","x":48,"y":-990},{"s":"R","x":52,"y":-970},{"s":"R","x":56,"y":-945},{"s":"R","x":60,"y":-975},{"s":"R","x":63,"y":-900},{"s":"R","x":66,"y":-700},{"s":"R","x":69,"y":-500},{"s":"R","x":72,"y":-420},{"s":"R","x":75,"y":-450},{"s":"R","x":78,"y":-380},{"s":"R","x":81,"y":-420},{"s":"R","x":84,"y":-360},{"s":"R","x":87,"y":-390},{"s":"R","x":90,"y":-330},{"s":"R","x":94,"y":-350},{"s":"R","x":98,"y":-310},{"s":"R","x":102,"y":-320},{"s":"R","x":106,"y":-295},{"s":"R","x":110,"y":-310},{"s":"R","x":114,"y":-290},{"s":"R","x":118,"y":-305},{"s":"R","x":122,"y":-280},{"s":"R","x":126,"y":-295},{"s":"R","x":130,"y":-275},{"s":"R","x":135,"y":-290},{"s":"R","x":140,"y":-265},{"s":"R","x":145,"y":-280},{"s":"R","x":150,"y":-255},{"s":"R","x":155,"y":-270},{"s":"R","x":160,"y":-250},{"s":"R","x":165,"y":-262},{"s":"R","x":170,"y":-240},{"s":"R","x":175,"y":-255},{"s":"R","x":180,"y":-235},{"s":"R","x":185,"y":-250},{"s":"R","x":190,"y":-230},{"s":"R","x":195,"y":-245},{"s":"R","x":200,"y":-228},
    {"s":"R","x":210,"y":-231},{"s":"R","x":220,"y":-210},{"s":"R","x":230,"y":-237},{"s":"R","x":240,"y":-212},{"s":"R","x":250,"y":-226},{"s":"R","x":260,"y":-195},{"s":"R","x":270,"y":-212},{"s":"R","x":280,"y":-214},{"s":"R","x":290,"y":-191},{"s":"R","x":300,"y":-216},{"s":"R","x":310,"y":-191},{"s":"R","x":320,"y":-205},{"s":"R","x":330,"y":-171},{"s":"R","x":340,"y":-190},{"s":"R","x":350,"y":-197},{"s":"R","x":360,"y":-171},{"s":"R","x":370,"y":-176},{"s":"R","x":380,"y":-195},{"s":"R","x":390,"y":-160},{"s":"R","x":400,"y":-179},
    {"s":"R","x":410,"y":-159},{"s":"R","x":420,"y":-188},{"s":"R","x":430,"y":-163},{"s":"R","x":440,"y":-148},{"s":"R","x":450,"y":-171},{"s":"R","x":460,"y":-163},{"s":"R","x":470,"y":-139},{"s":"R","x":480,"y":-172},{"s":"R","x":490,"y":-156},{"s":"R","x":500,"y":-147},{"s":"R","x":510,"y":-161},{"s":"R","x":520,"y":-141},{"s":"R","x":530,"y":-171},{"s":"R","x":540,"y":-147},{"s":"R","x":550,"y":-195},{"s":"R","x":560,"y":-135},{"s":"R","x":570,"y":-155},{"s":"R","x":580,"y":-159},{"s":"R","x":590,"y":-139},{"s":"R","x":600,"y":-166},
    {"s":"R","x":610,"y":-145},{"s":"R","x":620,"y":-162},{"s":"R","x":630,"y":-132},{"s":"R","x":640,"y":-154},{"s":"R","x":650,"y":-165},{"s":"R","x":660,"y":-141},{"s":"R","x":670,"y":-148},{"s":"R","x":680,"y":-169},{"s":"R","x":690,"y":-136},{"s":"R","x":700,"y":-157},{"s":"R","x":710,"y":-139},{"s":"R","x":720,"y":-169},{"s":"R","x":730,"y":-146},{"s":"R","x":740,"y":-132},{"s":"R","x":750,"y":-157},{"s":"R","x":760,"y":-150},{"s":"R","x":770,"y":-127},{"s":"R","x":780,"y":-161},{"s":"R","x":790,"y":-146},{"s":"R","x":800,"y":-138},
    {"s":"R","x":810,"y":-152},{"s":"R","x":820,"y":-133},{"s":"R","x":830,"y":-162},{"s":"R","x":840,"y":-139},{"s":"R","x":850,"y":-156},{"s":"R","x":860,"y":-127},{"s":"R","x":870,"y":-147},{"s":"R","x":880,"y":-152},{"s":"R","x":890,"y":-131},{"s":"R","x":900,"y":-159},{"s":"R","x":910,"y":-138},{"s":"R","x":920,"y":-155},{"s":"R","x":930,"y":-125},{"s":"R","x":940,"y":-146},{"s":"R","x":950,"y":-157},{"s":"R","x":960,"y":-133},{"s":"R","x":970,"y":-140},{"s":"R","x":980,"y":-161},{"s":"R","x":990,"y":-128},{"s":"R","x":1000,"y":-149},
    {"s":"R","x":1010,"y":-131},{"s":"R","x":1020,"y":-162},{"s":"R","x":1030,"y":-139},{"s":"R","x":1040,"y":-125},{"s":"R","x":1050,"y":-150},{"s":"R","x":1060,"y":-143},{"s":"R","x":1070,"y":-121},{"s":"R","x":1080,"y":-154},{"s":"R","x":1090,"y":-140},{"s":"R","x":1100,"y":-132},{"s":"R","x":1110,"y":-146},{"s":"R","x":1120,"y":-127},{"s":"R","x":1130,"y":-157},{"s":"R","x":1140,"y":-85},{"s":"R","x":1150,"y":-151},{"s":"R","x":1160,"y":-123},{"s":"R","x":1170,"y":-143},{"s":"R","x":1180,"y":-148},{"s":"R","x":1190,"y":-128},{"s":"R","x":1200,"y":-156},
    {"s":"R","x":1210,"y":-135},{"s":"R","x":1220,"y":-152},{"s":"R","x":1230,"y":-122},{"s":"R","x":1240,"y":-145},{"s":"R","x":1250,"y":-156},{"s":"R","x":1260,"y":-132},{"s":"R","x":1270,"y":-139},{"s":"R","x":1280,"y":-160},{"s":"R","x":1290,"y":-127},{"s":"R","x":1300,"y":-148},{"s":"R","x":1310,"y":-130},{"s":"R","x":1320,"y":-161},{"s":"R","x":1330,"y":-138},{"s":"R","x":1340,"y":-124},{"s":"R","x":1350,"y":-149},{"s":"R","x":1360,"y":-142},{"s":"R","x":1370,"y":-120},{"s":"R","x":1380,"y":-154},{"s":"R","x":1390,"y":-140},{"s":"R","x":1400,"y":-132},
    {"s":"R","x":1410,"y":-146},{"s":"R","x":1420,"y":-128},{"s":"R","x":1430,"y":-158},{"s":"R","x":1435,"y":-278},{"s":"R","x":1440,"y":-135},{"s":"R","x":1450,"y":-153},{"s":"R","x":1460,"y":-125},{"s":"R","x":1470,"y":-145},{"s":"R","x":1480,"y":-151},{"s":"R","x":1490,"y":-131},{"s":"R","x":1500,"y":-159},{"s":"R","x":1510,"y":-139},{"s":"R","x":1520,"y":-156},{"s":"R","x":1530,"y":-127},{"s":"R","x":1540,"y":-150},{"s":"R","x":1550,"y":-161},{"s":"R","x":1560,"y":-138},{"s":"R","x":1570,"y":-146},{"s":"R","x":1580,"y":-167},{"s":"R","x":1590,"y":-105},{"s":"R","x":1600,"y":-165}
  ]},
  "mark": {"type": "line", "strokeWidth": 1.8, "clip": true},
  "encoding": {
    "x": {
      "field": "x", "type": "quantitative",
      "scale": {"domain": [0, 1600], "nice": false},
      "axis": {"values": [0, 200, 400, 600, 800, 1000, 1200, 1400, 1600], "format": "d", "title": "Episode", "titlePadding": 2}
    },
    "y": {
      "field": "y", "type": "quantitative",
      "scale": {"domain": [-1120, 1035], "nice": false, "zero": false},
      "axis": {"values": [-1000, -750, -500, -250, 0, 250, 500, 750, 1000], "format": "d", "title": "Utility 𝑈", "titlePadding": 8}
    },
    "color": {
      "field": "s", "type": "nominal",
      "scale": {
        "domain": ["T", "CB", "CC", "SB", "B", "C", "S", "R"],
        "range": ["#ff0000", "#ff8c00", "#0000ff", "#000000", "#008000", "#808080", "#ffc0cb", "#ff00ff"]
      },
      "legend": {
        "title": null, "orient": "bottom-right", "offset": 10, "columns": 2,
        "symbolType": "M-1,0H2.3", "symbolSize": 400, "symbolStrokeWidth": 2,
        "labelFont": "Liberation Serif", "labelFontSize": 16, "labelColor": "black", "labelOffset": 24,
        "fillColor": "rgba(255,255,255,0.8)", "strokeColor": "#cccccc", "cornerRadius": 4, "padding": 6,
        "rowPadding": 2, "columnPadding": 30,
        "labelExpr": "datum.label == 'T' ? 'TP-DDPG' : datum.label == 'B' ? 'opt_BW' : datum.label == 'CB' ? 'opt_CPU&BW' : datum.label == 'C' ? 'opt_CPU' : datum.label == 'CC' ? 'opt_CPU&CS' : datum.label == 'S' ? 'opt_CS' : datum.label == 'SB' ? 'opt_CS&BW' : 'Random'"
      }
    }
  }
}
